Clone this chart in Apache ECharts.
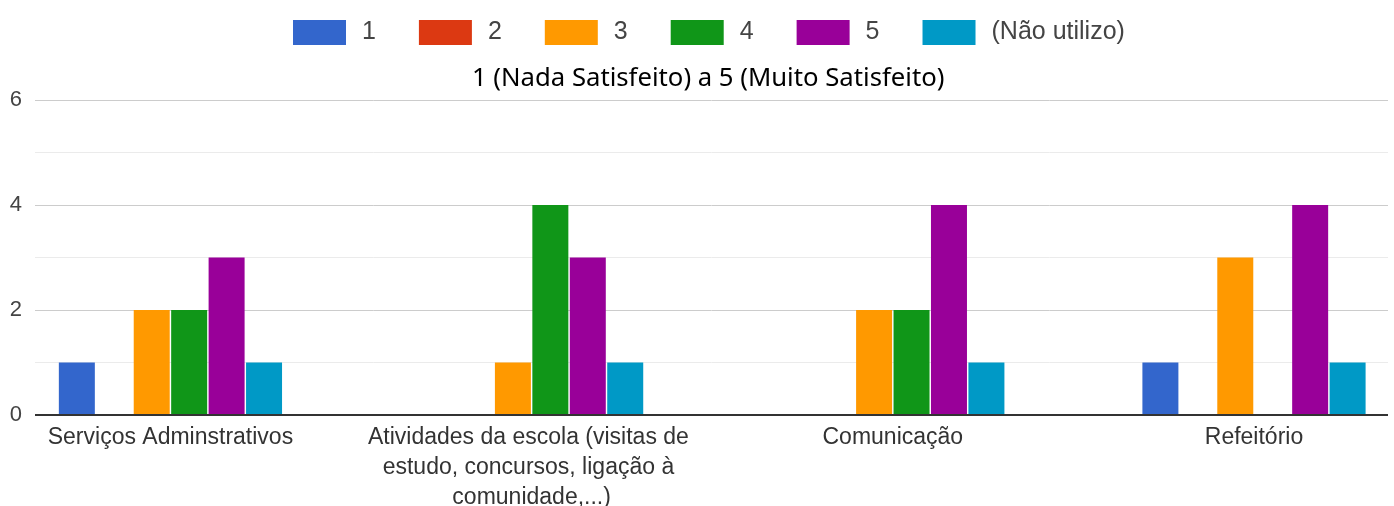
<!DOCTYPE html>
<html>
<head>
<meta charset="utf-8">
<script src="https://cdn.jsdelivr.net/npm/echarts@6/dist/echarts.min.js"></script>
<style>
    html, body { margin: 0; padding: 0; background: #fff; }
    #chart { width: 1394px; height: 506px; }
</style>
</head>
<body>
<div id="chart"></div>
<script>
// categories on the x axis (one group of bars each)
const categories = [
    "Serviços Adminstrativos",
    "Atividades da escola (visitas de estudo, concursos, ligação à comunidade,...)",
    "Comunicação",
    "Refeitório",
];

// one entry per category, in the order above
const series_names = ["1", "2", "3", "4", "5", "(Não utilizo)"];
const values_1 = [1, 0, 0, 1];
const values_2 = [0, 0, 0, 0];
const values_3 = [2, 1, 2, 3];
const values_4 = [2, 4, 2, 0];
const values_5 = [3, 3, 4, 4];
const values_nao = [1, 1, 1, 1];

const y_ticks = [0, 2, 4, 6];

const colors = ["#3366cc", "#dc3912", "#ff9900", "#109618", "#990099", "#0099c6"];
const all_values = [values_1, values_2, values_3, values_4, values_5, values_nao];

const FONT = "'Liberation Sans', Arial, sans-serif";

const chart = echarts.init(document.getElementById("chart"), null, { renderer: "canvas" });

// x is a value axis so the groups can sit where the reference puts them
// (google charts leaves uneven margins at the ends)
const series = series_names.map((name, s) => ({
    name,
    type: "bar",
    barWidth: 36,
    barGap: "4%",
    itemStyle: { color: colors[s] },
    emphasis: { disabled: true },
    data: all_values[s].map((v, i) => [i, v]),
}));

chart.setOption({
    animation: false,
    color: colors,
    title: {
        text: "1 (Nada Satisfeito) a 5 (Muito Satisfeito)",
        left: 467,
        top: 61,
        textStyle: { fontFamily: "'Noto Sans', sans-serif", fontSize: 25.7, fontWeight: "normal", color: "#000" },
    },
    legend: {
        top: 15,
        left: 288,
        itemWidth: 53,
        itemHeight: 25,
        itemGap: 43,
        icon: "rect",
        data: series_names,
        textStyle: { fontFamily: FONT, fontSize: 25, color: "#444", padding: [0, 0, 0, 11] },
    },
    grid: { left: 35, right: 6, top: 100, bottom: 91, outerBoundsMode: "none" },
    xAxis: {
        type: "value",
        min: -0.375,
        max: 3.371,
        splitLine: { show: false },
        axisTick: { show: false },
        axisLine: { show: false },
        axisLabel: {
            customValues: categories.map((c, i) => i),
            formatter: (v) => categories[Math.round(v)] ?? "",
            fontFamily: FONT,
            fontSize: 23,
            color: "#333",
            lineHeight: 30,
            margin: 8,
            width: 360,
            overflow: "break",
            showMinLabel: true,
            showMaxLabel: true,
        },
    },
    yAxis: {
        type: "value",
        min: 0,
        max: 6,
        interval: 2,
        axisLine: { show: false },
        axisTick: { show: false },
        axisLabel: {
            customValues: y_ticks,
            fontFamily: FONT,
            fontSize: 22,
            color: "#444",
            margin: 13,
        },
        splitLine: { lineStyle: { color: "#cccccc", width: 1 } },
        minorTick: { show: false, splitNumber: 2 },
        minorSplitLine: { show: true, lineStyle: { color: "#ebebeb", width: 1 } },
    },
    series: [
        ...series,
        {
            // dark baseline at zero
            type: "line",
            silent: true,
            symbol: "none",
            data: [],
            markLine: {
                silent: true,
                symbol: "none",
                label: { show: false },
                lineStyle: { color: "#333", width: 2, type: "solid" },
                data: [{ yAxis: 0 }],
            },
        },
    ],
});
</script>
</body>
</html>
